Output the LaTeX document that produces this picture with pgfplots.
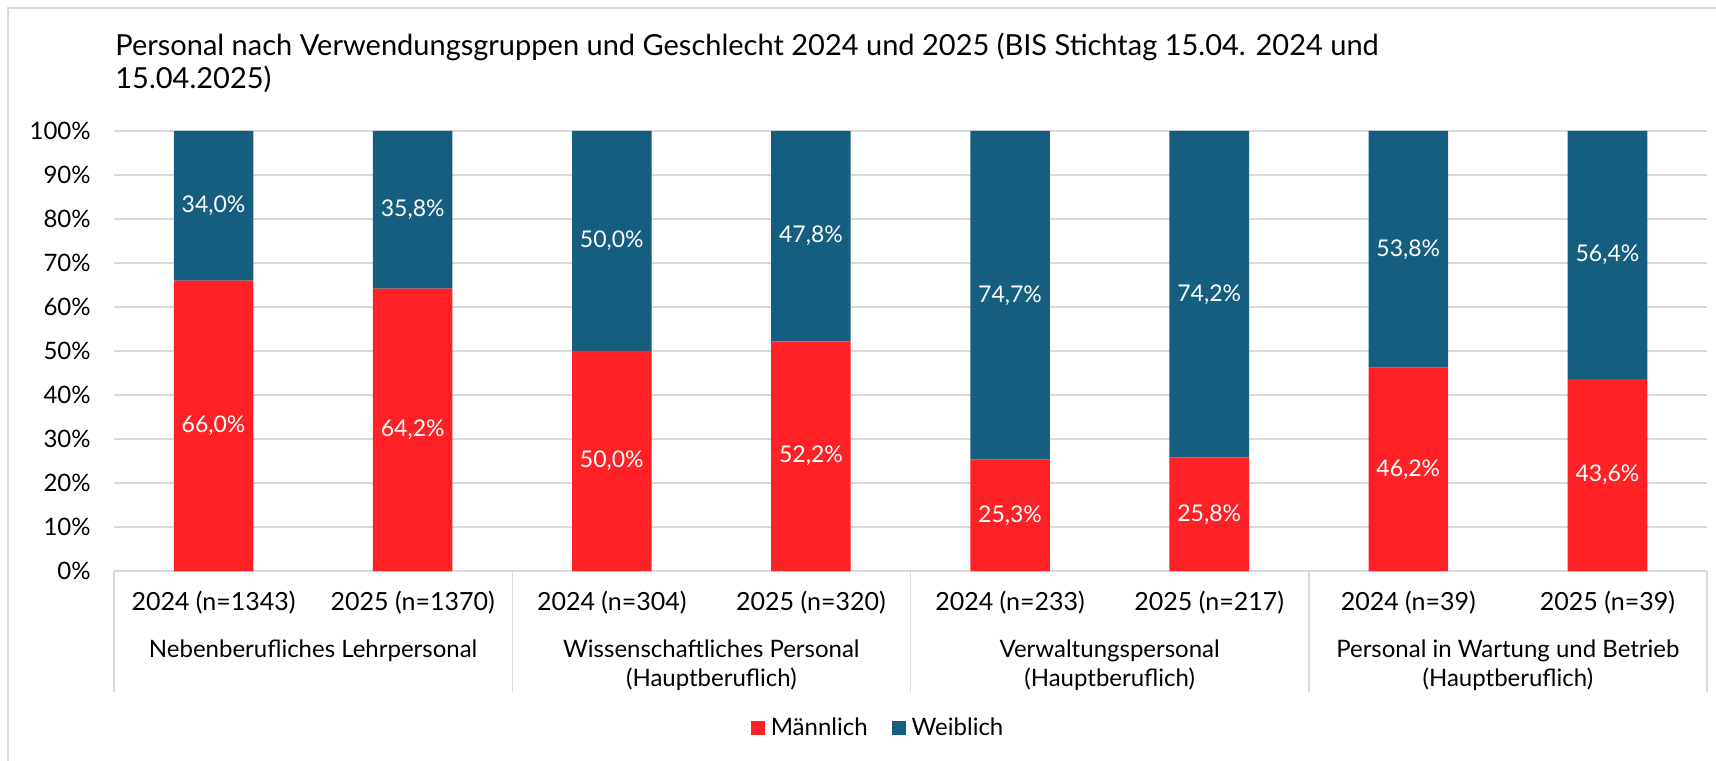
\documentclass[border=0pt]{standalone}
\usepackage{fontspec}
\setmainfont{Lato}
\usepackage{pgfplots}
\pgfplotsset{compat=1.18}
\usepackage{pgfplotstable}
\definecolor{mred}{RGB}{255,33,38}
\definecolor{wblue}{RGB}{22,94,128}
\definecolor{gridgray}{RGB}{217,217,217}

\pgfplotstableread{
x m w
0 66.0 34.0
1 64.2 35.8
2 50.0 50.0
3 52.2 47.8
4 25.3 74.7
5 25.8 74.2
6 46.2 53.8
7 43.6 56.4
}\datatable

\begin{document}
\begin{tikzpicture}
\path[use as bounding box] (0,0) rectangle (858pt,380pt);
\draw[gridgray, line width=0.75pt] (4pt,-20pt) rectangle (880pt,376pt);
\node[anchor=base west, inner sep=0pt, font=\fontsize{14.5}{16}\selectfont] at (57.5pt,352pt) {Personal nach Verwendungsgruppen und Geschlecht 2024 und 2025 (BIS Stichtag 15.04. 2024 und};
\node[anchor=base west, inner sep=0pt, font=\fontsize{14.5}{16}\selectfont] at (57.5pt,335.5pt) {15.04.2025)};
\begin{axis}[
  at={(57pt,94.5pt)}, anchor=south west,
  scale only axis, width=796.5pt, height=220pt,
  ybar stacked, bar width=39.8pt,
  xmin=-0.5, xmax=7.5, ymin=0, ymax=100,
  clip=false,
  axis line style={draw=none},
  major tick length=0pt,
  ymajorgrids, grid style={draw=gridgray, line width=0.75pt},
  ytick={0,10,...,100},
  /pgf/number format/assume math mode=true,
  yticklabel={\pgfmathprintnumber{\tick}\%},
  yticklabel style={anchor=east, inner sep=0pt, xshift=-11.5pt, font=\fontsize{12}{14}\selectfont},
  xtick={0,...,7},
  xticklabels={2024 (n=1343),2025 (n=1370),2024 (n=304),2025 (n=320),2024 (n=233),2025 (n=217),2024 (n=39),2025 (n=39)},
  xticklabel style={anchor=base, inner sep=0pt, yshift=-19.5pt, font=\fontsize{12.5}{14}\selectfont},
  legend style={at={(0.479,-0.357)}, anchor=center, draw=none, fill=none, legend columns=2, font=\fontsize{12}{14}\selectfont,
    /tikz/every odd column/.append style={column sep=3pt},
    /tikz/every even column/.append style={column sep=12pt},
    nodes={inner sep=0pt}},
  legend image code/.code={\fill[#1] (0pt,-3.5pt) rectangle (7pt,3.5pt);},
  point meta=explicit,
  nodes near coords={\pgfmathprintnumber[fixed,fixed zerofill,precision=1,use comma,assume math mode=true]{\pgfplotspointmeta}\%},
  every node near coord/.append style={anchor=center, text=white, inner sep=0pt, font=\fontsize{11.5}{14}\selectfont},
]
\addplot[fill=mred, draw=none] table[x=x, y=m, meta=m] {\datatable};
\addlegendentry{Männlich}
\addplot[fill=wblue, draw=none] table[x=x, y=w, meta=w] {\datatable};
\addlegendentry{Weiblich}
\draw[gridgray, line width=0.75pt] (axis cs:-0.5,0) -- ([yshift=-60.5pt]axis cs:-0.5,0);
\draw[gridgray, line width=0.75pt] (axis cs:1.5,0) -- ([yshift=-60.5pt]axis cs:1.5,0);
\draw[gridgray, line width=0.75pt] (axis cs:3.5,0) -- ([yshift=-60.5pt]axis cs:3.5,0);
\draw[gridgray, line width=0.75pt] (axis cs:5.5,0) -- ([yshift=-60.5pt]axis cs:5.5,0);
\draw[gridgray, line width=0.75pt] (axis cs:7.5,0) -- ([yshift=-60.5pt]axis cs:7.5,0);
\node[anchor=base, inner sep=0pt, font=\fontsize{12}{14}\selectfont, yshift=-43pt] at (axis cs:0.5,0) {Nebenberufliches Lehrpersonal};
\node[anchor=base, inner sep=0pt, font=\fontsize{12}{14}\selectfont, yshift=-43pt] at (axis cs:2.5,0) {Wissenschaftliches Personal};
\node[anchor=base, inner sep=0pt, font=\fontsize{12}{14}\selectfont, yshift=-57.5pt] at (axis cs:2.5,0) {(Hauptberuflich)};
\node[anchor=base, inner sep=0pt, font=\fontsize{12}{14}\selectfont, yshift=-43pt] at (axis cs:4.5,0) {Verwaltungspersonal};
\node[anchor=base, inner sep=0pt, font=\fontsize{12}{14}\selectfont, yshift=-57.5pt] at (axis cs:4.5,0) {(Hauptberuflich)};
\node[anchor=base, inner sep=0pt, font=\fontsize{12}{14}\selectfont, yshift=-43pt] at (axis cs:6.5,0) {Personal in Wartung und Betrieb};
\node[anchor=base, inner sep=0pt, font=\fontsize{12}{14}\selectfont, yshift=-57.5pt] at (axis cs:6.5,0) {(Hauptberuflich)};
\end{axis}
\end{tikzpicture}
\end{document}
